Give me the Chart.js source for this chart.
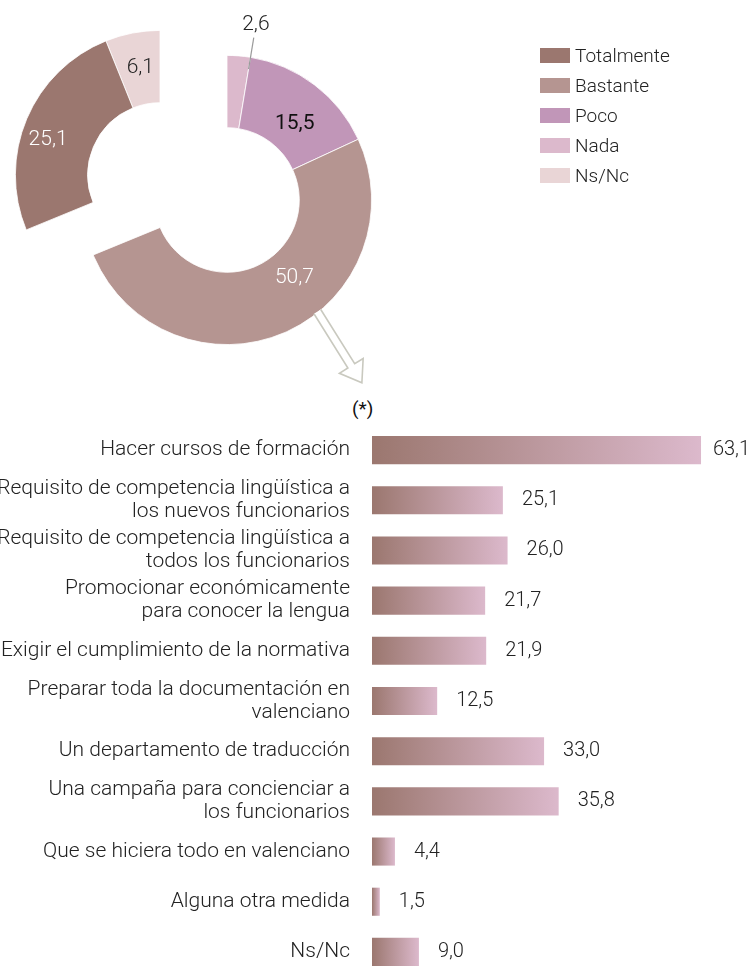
<!DOCTYPE html>
<html>
<head>
<meta charset="utf-8">
<script src="https://cdn.jsdelivr.net/npm/chart.js@4.4.1/dist/chart.umd.min.js"></script>
<style>
body{margin:0;width:756px;height:966px;overflow:hidden;background:#fff;position:relative;font-family:Roboto,sans-serif;font-weight:300;color:#222}
#donutBox{position:absolute;left:0;top:0;width:756px;height:390px}
#barBox{position:absolute;left:0;top:425px;width:756px;height:552px}
#legend{position:absolute;left:540px;top:40px}
.item{height:30px;display:flex;align-items:center;font-size:19px}
.swatch{width:30px;height:15px;margin-right:5px}
#note{position:absolute;left:352px;top:398px;font-size:19px;line-height:22px;font-weight:400;color:#111}
</style>
</head>
<body>
<div id="donutBox"><canvas id="donut"></canvas></div>
<div id="legend"></div>
<div id="note">(*)</div>
<div id="barBox"><canvas id="bars"></canvas></div>
<script>
// respuestas (orden de la leyenda)
var answerLabels = ['Totalmente', 'Bastante', 'Poco', 'Nada', 'Ns/Nc']
var answerValues = [25.1, 50.7, 15.5, 2.6, 6.1]
var answerColors = ['#9b776f', '#b59591', '#c196b8', '#dcb9cc', '#e9d5d6']

// medidas propuestas
var measureLabels = [
    'Hacer cursos de formación',
    ['Requisito de competencia lingüística a', 'los nuevos funcionarios'],
    ['Requisito de competencia lingüística a', 'todos los funcionarios'],
    ['Promocionar económicamente', 'para conocer la lengua'],
    'Exigir el cumplimiento de la normativa',
    ['Preparar toda la documentación en', 'valenciano'],
    'Un departamento de traducción',
    ['Una campaña para concienciar a', 'los funcionarios'],
    'Que se hiciera todo en valenciano',
    'Alguna otra medida',
    'Ns/Nc'
]
var measureValues = [63.1, 25.1, 26.0, 21.7, 21.9, 12.5, 33.0, 35.8, 4.4, 1.5, 9.0]

var pulled = ['Totalmente', 'Ns/Nc']
var pullShift = { x: -67, y: -25 }
var textColor = { 'Totalmente': '#fff', 'Bastante': '#fff', 'Poco': '#111', 'Nada': '#222', 'Ns/Nc': '#222' }
var labelNudge = { 'Totalmente': [-12, 7], 'Bastante': [24, -22], 'Poco': [2, 10], 'Ns/Nc': [1, -1] }

function fmt(v){
    return v.toFixed(1).replace('.', ',')
}

// legend
var legend = document.getElementById('legend')
answerLabels.forEach((lab, i) => {
    let row = document.createElement('div')
    row.className = 'item'
    row.innerHTML = `<span class="swatch" style="background:${answerColors[i]}"></span>${lab}`
    legend.appendChild(row)
})

// the ring goes clockwise from the top: Nada, Poco, Bastante, Totalmente, Ns/Nc
var ringLabels = answerLabels.slice().reverse()
var ringValues = answerValues.slice().reverse()
var ringColors = answerColors.slice().reverse()
var total = ringValues.reduce((a, b) => a + b, 0)

// two slices are drawn moved out of the ring together
var pullOut = {
    id: 'pullOut',
    beforeDatasetDraw(chart, args){
        var ctx = chart.ctx
        args.meta.data.forEach((arc, i) => {
            ctx.save()
            if (pulled.includes(chart.data.labels[i])) ctx.translate(pullShift.x, pullShift.y)
            arc.draw(ctx)
            ctx.restore()
        })
        return false
    }
}

var ringText = {
    id: 'ringText',
    afterDatasetsDraw(chart){
        var ctx = chart.ctx
        var meta = chart.getDatasetMeta(0)
        ctx.save()
        ctx.textAlign = 'center'
        ctx.textBaseline = 'middle'
        meta.data.forEach((arc, i) => {
            let lab = chart.data.labels[i]
            let v = chart.data.datasets[0].data[i]
            if (v < 5) {
                // small slice: value outside with a leader line
                let a = arc.endAngle
                let r1 = arc.outerRadius - 12, r2 = arc.outerRadius + 20, r3 = arc.outerRadius + 33
                ctx.strokeStyle = '#9a9a9a'
                ctx.lineWidth = 1.2
                ctx.beginPath()
                ctx.moveTo(arc.x + Math.cos(a) * r1, arc.y + Math.sin(a) * r1)
                ctx.lineTo(arc.x + Math.cos(a) * r2, arc.y + Math.sin(a) * r2)
                ctx.stroke()
                ctx.font = '300 21px Roboto'
                ctx.fillStyle = textColor[lab]
                ctx.fillText(fmt(v), arc.x + Math.cos(a) * r3, arc.y + Math.sin(a) * r3)
                return
            }
            let p = arc.tooltipPosition()
            let x = p.x, y = p.y
            if (pulled.includes(lab)) { x += pullShift.x; y += pullShift.y }
            let n = labelNudge[lab] || [0, 0]
            ctx.font = (lab === 'Poco' ? '400' : '300') + ' 21px Roboto'
            ctx.fillStyle = textColor[lab]
            ctx.fillText(fmt(v), x + n[0], y + n[1])
        })
        // outlined arrow pointing down to the list of measures
        let arc0 = meta.data[0]
        let from = (141 - 90) * Math.PI / 180
        let dir = (148 - 90) * Math.PI / 180
        let sx = arc0.x + Math.cos(from) * (arc0.outerRadius - 1)
        let sy = arc0.y + Math.sin(from) * (arc0.outerRadius - 1)
        let L = 84, w = 4, hw = 14, hl = 20
        ctx.translate(sx, sy)
        ctx.rotate(dir)
        ctx.beginPath()
        ctx.moveTo(0, -w)
        ctx.lineTo(L - hl, -w)
        ctx.lineTo(L - hl, -hw)
        ctx.lineTo(L, 0)
        ctx.lineTo(L - hl, hw)
        ctx.lineTo(L - hl, w)
        ctx.lineTo(0, w)
        ctx.fillStyle = '#fff'
        ctx.fill()
        ctx.strokeStyle = '#c9c9bf'
        ctx.lineWidth = 1.6
        ctx.stroke()
        ctx.restore()
    }
}

new Chart(document.getElementById('donut'), {
    type: 'doughnut',
    data: {
        labels: ringLabels,
        datasets: [{
            data: ringValues,
            backgroundColor: ringColors,
            borderColor: '#fff',
            borderWidth: 0.8
        }]
    },
    options: {
        responsive: true,
        maintainAspectRatio: false,
        animation: false,
        cutout: '50%',
        rotation: -ringValues[0] / total * 360,
        layout: { padding: { left: 82, top: 55, right: 384, bottom: 45 } },
        plugins: { legend: { display: false }, tooltip: { enabled: false } }
    },
    plugins: [pullOut, ringText]
})

// each bar fades from dark to light over its own length
function barGradient(c){
    var chart = c.chart
    var x = chart.scales.x
    if (!x || c.raw == null) return '#b59591'
    var x0 = x.getPixelForValue(0), x1 = x.getPixelForValue(c.raw)
    if (!isFinite(x0) || !isFinite(x1) || x1 <= x0) return '#b59591'
    var g = chart.ctx.createLinearGradient(x0, 0, x1, 0)
    g.addColorStop(0, '#9b776f')
    g.addColorStop(1, '#dcb9cc')
    return g
}

var barText = {
    id: 'barText',
    afterDatasetsDraw(chart){
        var ctx = chart.ctx
        ctx.save()
        ctx.font = '300 20px Roboto'
        ctx.fillStyle = '#222'
        ctx.textBaseline = 'middle'
        chart.getDatasetMeta(0).data.forEach((bar, i) => {
            let t = fmt(chart.data.datasets[0].data[i])
            let x = Math.min(bar.x + 19, chart.width - ctx.measureText(t).width - 6)
            ctx.fillText(t, x, bar.y)
        })
        ctx.restore()
    }
}

new Chart(document.getElementById('bars'), {
    type: 'bar',
    data: {
        labels: measureLabels,
        datasets: [{
            data: measureValues,
            backgroundColor: barGradient,
            barPercentage: 0.56,
            categoryPercentage: 1
        }]
    },
    options: {
        indexAxis: 'y',
        responsive: true,
        maintainAspectRatio: false,
        animation: false,
        layout: { padding: { left: 0, right: 19, top: 0, bottom: 0 } },
        scales: {
            x: { display: false, min: 0, max: 70 },
            y: {
                grid: { display: false, drawTicks: false },
                border: { display: false },
                ticks: {
                    autoSkip: false,
                    padding: 22,
                    color: '#222',
                    font: { family: 'Roboto', size: 21, weight: 300, lineHeight: 1.1 }
                },
                afterFit(scale){
                    scale.width = 372
                    scale.paddingTop = 0
                    scale.paddingBottom = 0
                }
            }
        },
        plugins: { legend: { display: false }, tooltip: { enabled: false } }
    },
    plugins: [barText]
})
</script>
</body>
</html>
